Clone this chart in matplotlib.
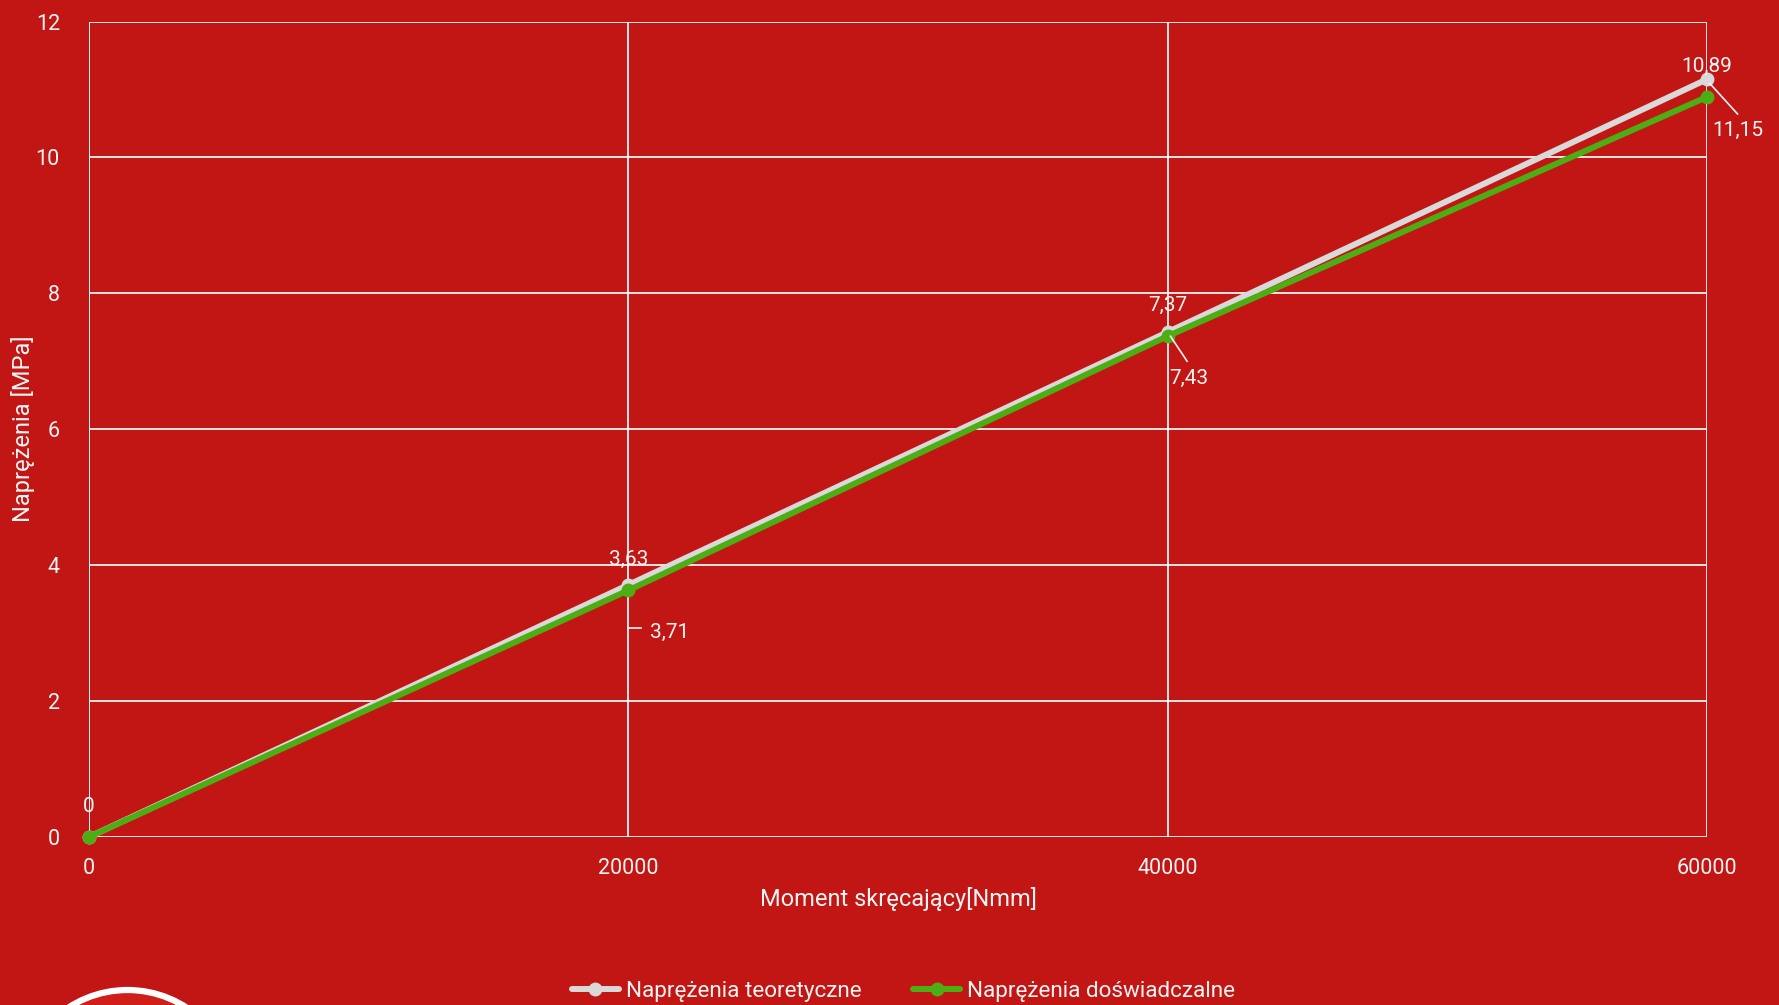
import matplotlib
matplotlib.use("Agg")
import matplotlib.pyplot as plt
from matplotlib.patches import Ellipse
from matplotlib.transforms import offset_copy

plt.rcParams['font.family'] = ['Roboto', 'DejaVu Sans']

# Data
moment = [0, 20000, 40000, 60000]
stress_theory = [0, 3.71, 7.43, 11.15]
stress_exp = [0, 3.63, 7.37, 10.89]
theory_labels = ["0", "3,71", "7,43", "11,15"]
exp_labels = ["0", "3,63", "7,37", "10,89"]
x_ticks = [0, 20000, 40000, 60000]
y_ticks = [0, 2, 4, 6, 8, 10, 12]

BG = '#c21614'
WHITE = '#f4f4f4'
GREY = '#d9d9d9'
GREEN = '#4cae14'

W, H = 1779, 1005
fig = plt.figure(figsize=(W / 100, H / 100), dpi=100, facecolor=BG)
ax = fig.add_axes([89 / W, 1 - 837 / H, (1707 - 89) / W, (837 - 21.5) / H])
ax.set_facecolor(BG)

ax.set_xlim(0, 60000)
ax.set_ylim(0, 12)
ax.set_xticks(x_ticks)
ax.set_yticks(y_ticks)
ax.set_xticklabels([str(v) for v in x_ticks])
ax.set_yticklabels([str(v) for v in y_ticks])
ax.tick_params(length=0, colors=WHITE, labelsize=15.5)
ax.tick_params(axis='y', pad=21)
ax.tick_params(axis='x', pad=15)
ax.grid(True, color=WHITE, linewidth=1.3)
ax.set_axisbelow(True)
for s in ax.spines.values():
    s.set_visible(False)
ax.axvline(0, color=WHITE, linewidth=1.3, zorder=1)

ax.set_xlabel("Moment skręcający[Nmm]", color=WHITE, fontsize=17, labelpad=6)
fig.text(23 / W, 1 - 429 / H, "Naprężenia [MPa]", color=WHITE, fontsize=17,
         rotation=90, ha='center', va='center')

ax.plot(moment, stress_theory, color=GREY, linewidth=4.3, marker='o', markersize=9,
        solid_capstyle='round', label="Naprężenia teoretyczne", zorder=3, clip_on=False)
ax.plot(moment, stress_exp, color=GREEN, linewidth=4.3, marker='o', markersize=9,
        solid_capstyle='round', label="Naprężenia doświadczalne", zorder=4, clip_on=False)

# Experimental values above the points
for x, y, t in zip(moment, stress_exp, exp_labels):
    ax.annotate(t, (x, y), xytext=(0, 22), textcoords='offset points',
                ha='center', va='center', color=WHITE, fontsize=15, zorder=6)

# Theoretical values below-right, joined to their points by leader lines
# index: (leader start offset, leader end offset, label offset), in points
leaders = {
    1: ((0, -31), (9, -31), (30, -34)),
    2: ((2, -3), (14, -21), (15, -33)),
    3: ((2, -3), (22, -25), (22, -37)),
}
inv = ax.transData.inverted()
for i, (a, b, txt) in leaders.items():
    x, y = moment[i], stress_theory[i]
    pa = offset_copy(ax.transData, fig=fig, x=a[0], y=a[1], units='points').transform((x, y))
    pb = offset_copy(ax.transData, fig=fig, x=b[0], y=b[1], units='points').transform((x, y))
    da, db = inv.transform(pa), inv.transform(pb)
    ax.plot([da[0], db[0]], [da[1], db[1]], color=WHITE, lw=1.2, zorder=5, clip_on=False)
    ax.annotate(theory_labels[i], (x, y), xytext=txt, textcoords='offset points',
                ha='center', va='center', color=WHITE, fontsize=15, zorder=6,
                annotation_clip=False)

fig.legend(loc='center', bbox_to_anchor=(0.5077, 1 - 991 / H), ncol=2, frameon=False,
           fontsize=16.2, handlelength=2.1, handletextpad=0.3, columnspacing=2.3,
           labelcolor=WHITE)

# Emblem circle at lower left
fig.patches.append(Ellipse((127.5 / W, 1 - 1098 / H), 2 * 108 / W, 2 * 108 / H,
                           transform=fig.transFigure, facecolor='#cf1f18',
                           edgecolor='white', linewidth=4.5))

fig.savefig("out.png", dpi=100, facecolor=BG)
